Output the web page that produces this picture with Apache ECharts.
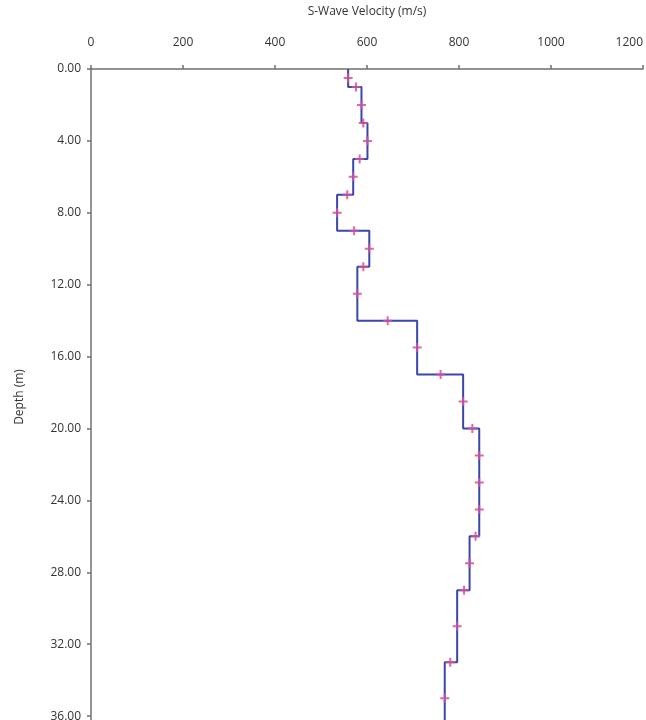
<!DOCTYPE html>
<html>
<head>
<meta charset="utf-8">
<script src="https://cdn.jsdelivr.net/npm/echarts@6/dist/echarts.min.js"></script>
<style>
html, body { margin: 0; padding: 0; background: #fff; }
#chart { width: 646px; height: 720px; }
</style>
</head>
<body>
<div id="chart"></div>
<script>
// layered Vs model: top depth of each layer (m) and its velocity (m/s)
var layerTop = [0, 1, 3, 5, 7, 9, 11, 14, 17, 20, 26, 29, 33, 37];
var layerVs = [559, 588, 601, 570, 535, 605, 579, 709, 809, 844, 823, 796, 769, 725];
var modelBottom = 40;

// sampled points drawn as crosses
var markDepth = [0.5, 1, 2, 3, 4, 5, 6, 7, 8, 9, 10, 11, 12.5, 14, 15.5, 17, 18.5, 20, 21.5, 23, 24.5, 26, 27.5, 29, 31, 33, 35, 37];
var markVs = [559, 576, 588, 592, 601, 584, 570, 557, 535, 572, 605, 592, 579, 645, 709, 760, 809, 829, 844, 844, 844, 836, 823, 811, 796, 781, 769, 747];

var stepData = [];
for (var i = 0; i < layerTop.length; i++) {
    var bot = i + 1 < layerTop.length ? layerTop[i + 1] : modelBottom;
    stepData.push([layerVs[i], layerTop[i]]);
    stepData.push([layerVs[i], bot]);
}
var markData = markDepth.map(function (d, i) { return [markVs[i], d]; });

var chart = echarts.init(document.getElementById('chart'));
var axisFont = 'Open Sans';
chart.setOption({
    animation: false,
    backgroundColor: '#fff',
    grid: {
        left: 91,
        right: 3,
        top: 69,
        bottom: -68,
        outerBoundsMode: 'none'
    },
    xAxis: {
        type: 'value',
        position: 'top',
        min: 0,
        max: 1200,
        interval: 200,
        name: 'S-Wave Velocity (m/s)',
        nameLocation: 'middle',
        nameGap: 51,
        nameTextStyle: { color: '#333', fontSize: 12, fontFamily: axisFont },
        axisLine: { lineStyle: { color: '#707070', width: 1.5 } },
        axisTick: { length: 4, lineStyle: { color: '#707070', width: 1.5 } },
        axisLabel: {
            color: '#333', fontSize: 12, fontFamily: axisFont, margin: 20,
            alignMaxLabel: 'right',
            formatter: function (v) { return String(v); }
        },
        splitLine: { show: false }
    },
    yAxis: {
        type: 'value',
        inverse: true,
        min: 0,
        max: modelBottom,
        interval: 4,
        axisLine: { lineStyle: { color: '#707070', width: 1.5 } },
        axisTick: { length: 4, lineStyle: { color: '#707070', width: 1.5 } },
        axisLabel: {
            color: '#333', fontSize: 12, fontFamily: axisFont, margin: 10,
            formatter: function (v) { return v.toFixed(2); }
        },
        splitLine: { show: false }
    },
    graphic: [{
        type: 'text',
        x: 20,
        y: 397,
        rotation: Math.PI / 2,
        style: {
            text: 'Depth (m)',
            fill: '#333',
            font: '12px "Open Sans"',
            textAlign: 'center',
            textVerticalAlign: 'middle'
        }
    }],
    series: [
        {
            name: 'Vs model',
            type: 'line',
            data: stepData,
            symbol: 'none',
            lineStyle: { color: '#3b46ad', width: 2 },
            z: 2
        },
        {
            name: 'samples',
            type: 'scatter',
            data: markData,
            symbol: 'path://M0,3.5H9V5.5H0Z M3.5,0H5.5V9H3.5Z',
            symbolSize: 9,
            itemStyle: { color: '#d4509c', opacity: 0.85 },
            z: 3
        }
    ]
});
</script>
</body>
</html>
